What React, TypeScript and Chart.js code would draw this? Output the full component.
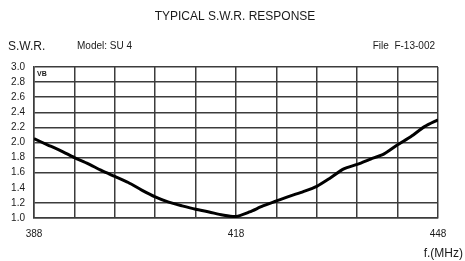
import React, { useEffect, useRef } from "react";
import { Chart, registerables } from "chart.js";

Chart.register(...registerables);

const freqs = [388, 390, 392, 394, 396, 398, 400, 402, 404, 406, 408, 410, 412, 414, 416, 418, 420, 422, 424, 426, 428, 430, 432, 434, 436, 438, 440, 442, 444, 446, 448];
const swr = [2.05, 1.97, 1.89, 1.80, 1.72, 1.63, 1.55, 1.47, 1.37, 1.28, 1.21, 1.16, 1.115, 1.08, 1.04, 1.02, 1.08, 1.16, 1.225, 1.29, 1.35, 1.42, 1.53, 1.65, 1.71, 1.78, 1.85, 1.97, 2.08, 2.21, 2.30];
const xLabels = [388, 418, 448];
const title = "TYPICAL S.W.R. RESPONSE";
const yAxisLabel = "S.W.R.";
const modelText = "Model: SU 4";
const fileText = "File  F-13-002";
const xAxisLabel = "f.(MHz)";
const cornerText = "VB";

const FONT = "'Liberation Sans', Arial, sans-serif";

const textPlugin = {
  id: "texts",
  afterDraw(chart: any) {
    const ctx = chart.ctx;
    const ca = chart.chartArea;
    ctx.save();
    ctx.fillStyle = "#1a1a1a";
    ctx.textBaseline = "alphabetic";
    ctx.font = `12px ${FONT}`;
    ctx.textAlign = "center";
    ctx.fillText(title, 235, 20);
    ctx.textAlign = "left";
    ctx.font = `12px ${FONT}`;
    ctx.fillText(yAxisLabel, 8, 50);
    ctx.font = `10px ${FONT}`;
    ctx.fillText(modelText, 77, 49);
    ctx.textAlign = "right";
    ctx.fillText(fileText, 435, 49);
    ctx.font = `12px ${FONT}`;
    ctx.fillText(xAxisLabel, 463, 257);
    ctx.textAlign = "left";
    ctx.font = `bold 7px ${FONT}`;
    ctx.fillText(cornerText, ca.left + 3, ca.top + 9);
    ctx.restore();
  },
};

export default function App() {
  const ref = useRef<HTMLCanvasElement>(null);
  useEffect(() => {
    document.body.style.margin = "0";
    const chart = new Chart(ref.current!, {
      type: "line",
      data: {
        datasets: [
          {
            data: freqs.map((f, i) => ({ x: f, y: swr[i] })),
            borderColor: "#000",
            borderWidth: 3,
            pointRadius: 0,
            tension: 0.25,
            fill: false,
          },
        ],
      },
      options: {
        animation: false,
        responsive: false,
        maintainAspectRatio: false,
        layout: { padding: { left: 0, right: 27, top: 67, bottom: 0 } },
        plugins: { legend: { display: false }, tooltip: { enabled: false } },
        scales: {
          x: {
            type: "linear",
            min: 388,
            max: 448,
            afterFit: (s: any) => { s.height = 43; },
            ticks: {
              stepSize: 6,
              autoSkip: false,
              maxRotation: 0,
              padding: 10,
              color: "#1a1a1a",
              font: { family: FONT, size: 10 },
              callback: (v: any) => (xLabels.includes(Math.round(Number(v))) ? String(Math.round(Number(v))) : ""),
            },
            grid: { color: "#3c3c3c", lineWidth: 1.5, drawTicks: false },
            border: { color: "#3c3c3c", width: 1.5 },
          },
          y: {
            min: 1,
            max: 3,
            afterFit: (s: any) => { s.width = 34; },
            ticks: {
              stepSize: 0.2,
              padding: 9,
              color: "#1a1a1a",
              font: { family: FONT, size: 10 },
              callback: (v: any) => Number(v).toFixed(1),
            },
            grid: {
              drawTicks: false,
              lineWidth: 1.5,
              color: (c: any) => (c.tick && Math.abs(c.tick.value - 1.4) < 0.01 ? "rgba(0,0,0,0)" : "#3c3c3c"),
            },
            border: { color: "#3c3c3c", width: 1.5 },
          },
        },
      },
      plugins: [textPlugin],
    });
    return () => chart.destroy();
  }, []);
  return (
    <div style={{ position: "absolute", left: 0, top: 0, width: 465, height: 261, background: "#fff" }}>
      <canvas ref={ref} width={465} height={261} />
    </div>
  );
}
